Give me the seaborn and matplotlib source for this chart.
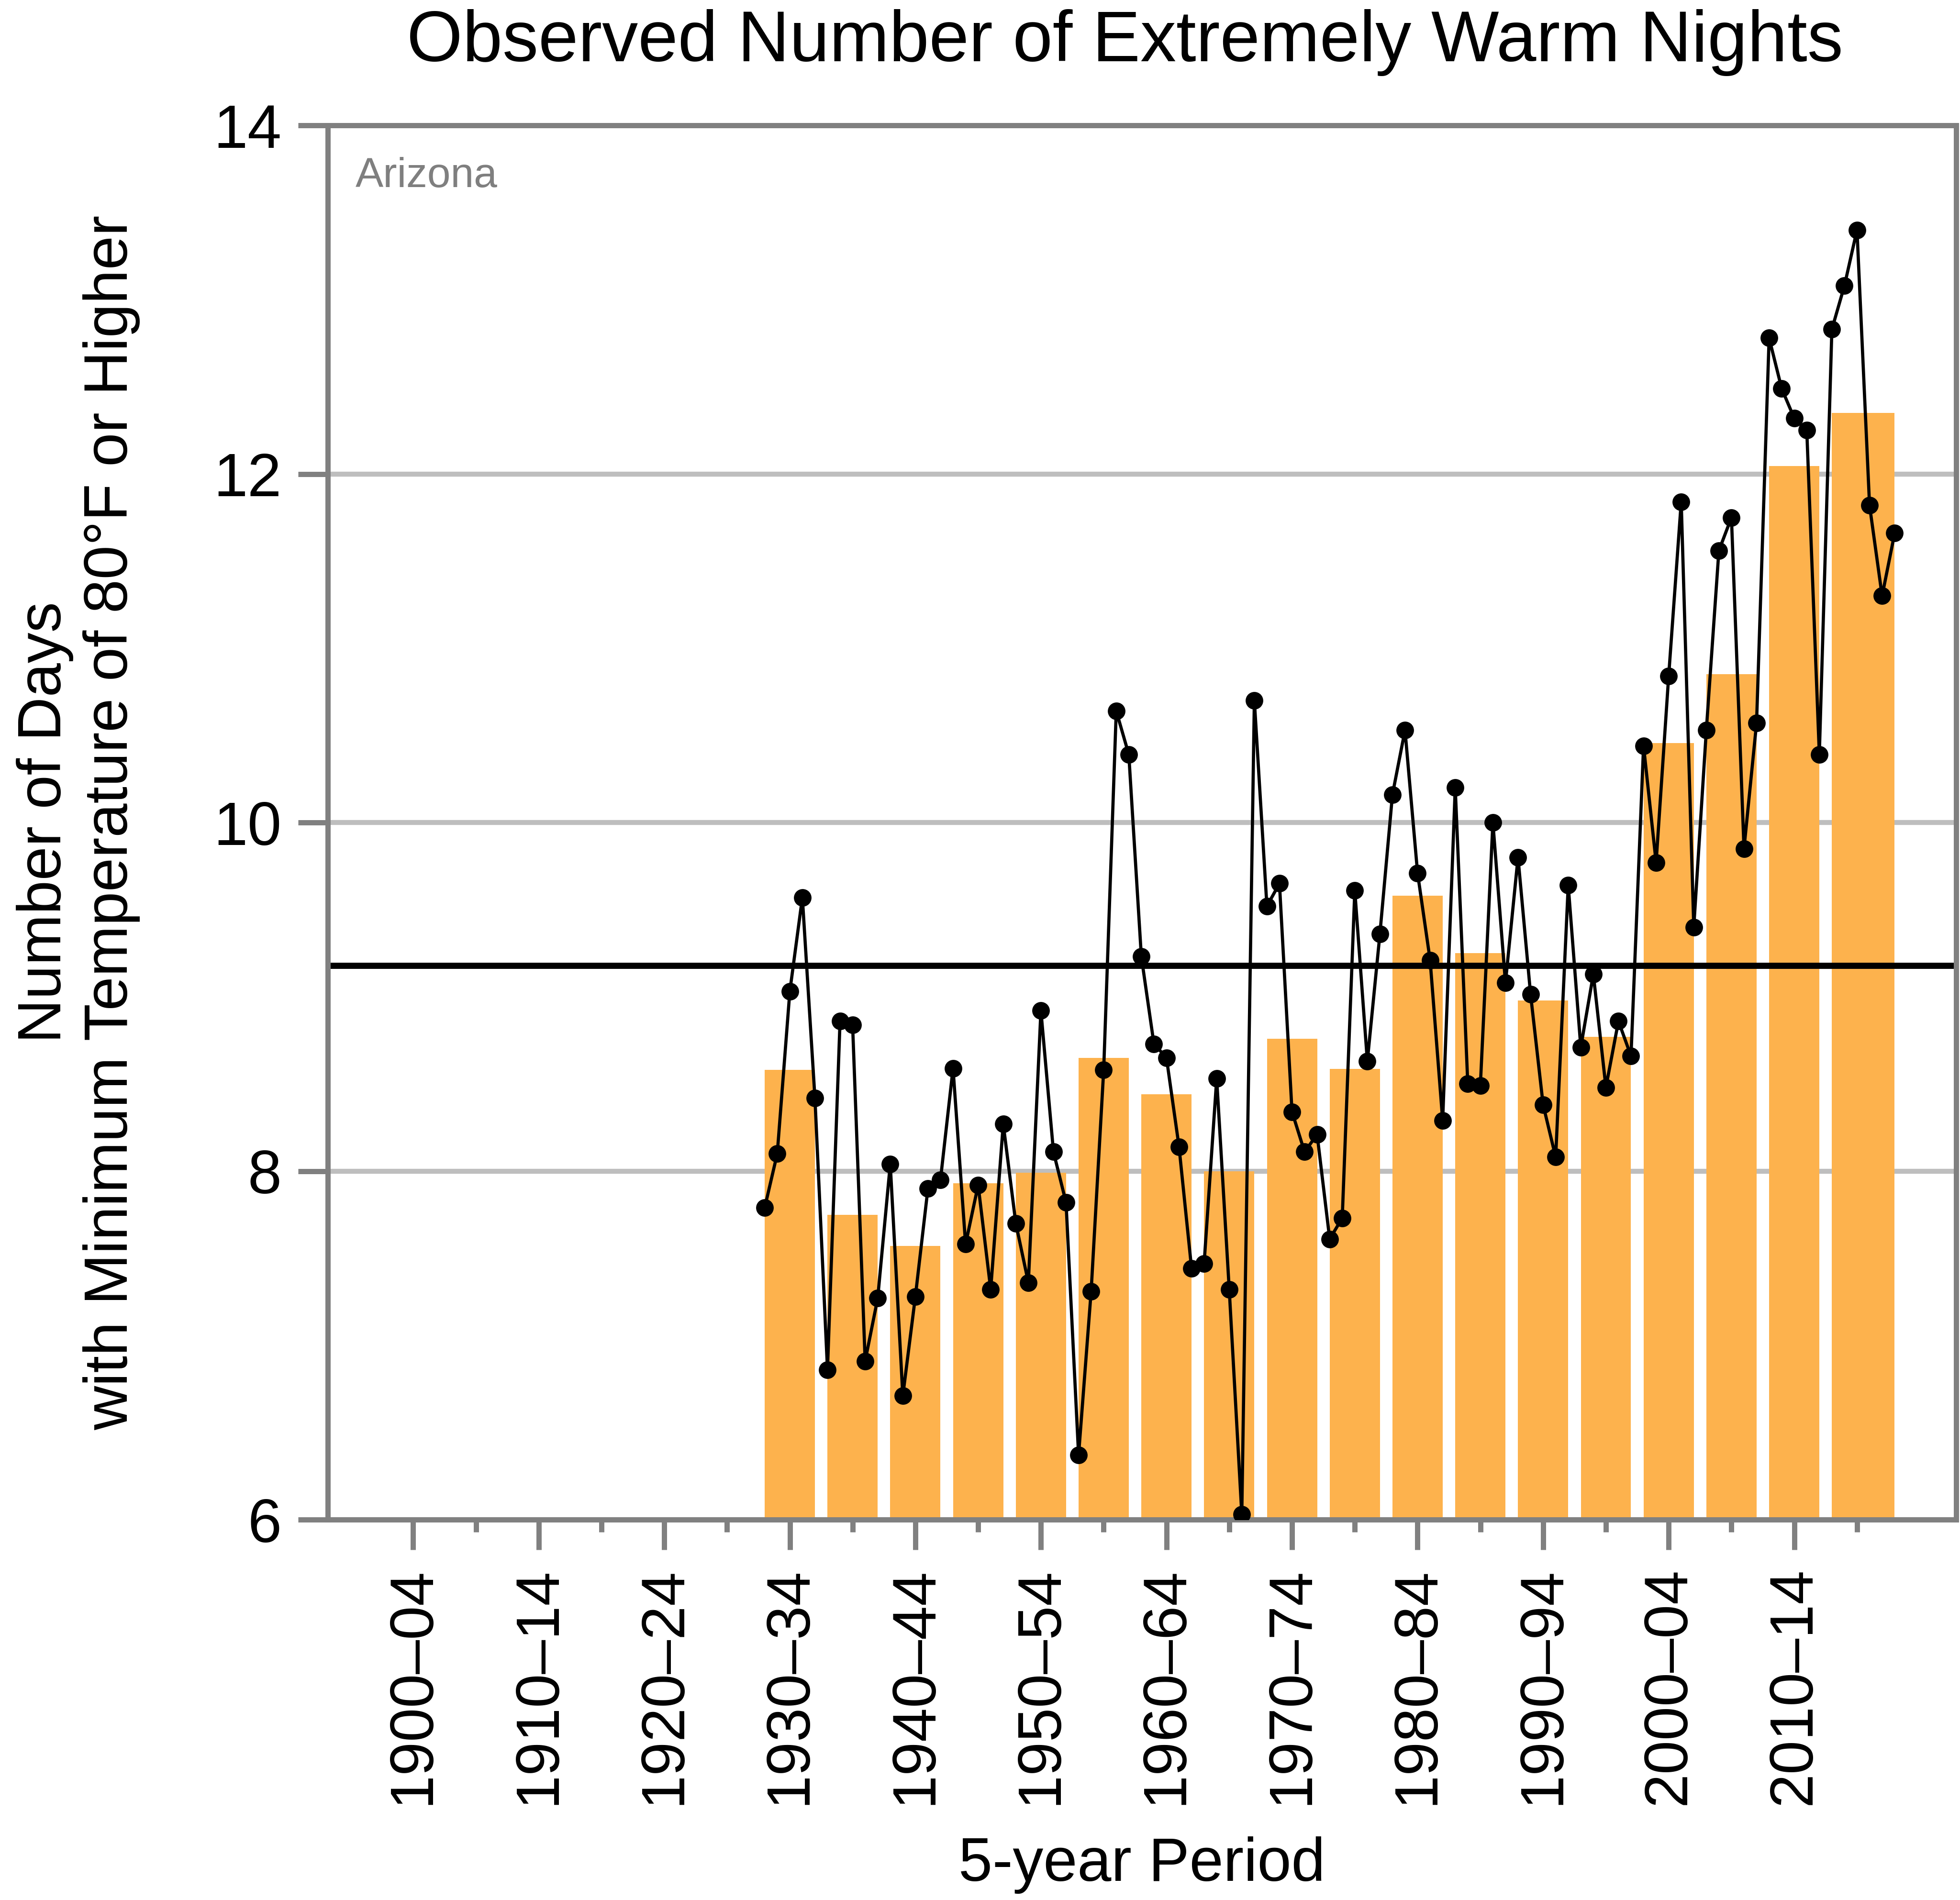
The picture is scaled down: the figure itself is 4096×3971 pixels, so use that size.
import numpy as np
import pandas as pd
import matplotlib
matplotlib.use("Agg")
import matplotlib.pyplot as plt
from matplotlib import font_manager
import seaborn as sns

# ---------------- data ----------------
years = list(range(1930, 2021))
annual_values = [
    7.79, 8.10, 9.03, 9.57, 8.42,
    6.86, 8.86, 8.84, 6.91, 7.27,
    8.04, 6.71, 7.28, 7.90, 7.95,
    8.59, 7.58, 7.92, 7.32, 8.27,
    7.70, 7.36, 8.92, 8.11, 7.82,
    6.37, 7.31, 8.58, 10.64, 10.39,
    9.23, 8.73, 8.65, 8.14, 7.44,
    7.47, 8.53, 7.32, 6.03, 10.70,
    9.52, 9.65, 8.34, 8.11, 8.21,
    7.61, 7.73, 9.61, 8.63, 9.36,
    10.16, 10.53, 9.71, 9.21, 8.29,
    10.20, 8.50, 8.49, 10.00, 9.08,
    9.80, 9.015, 8.38, 8.08, 9.64,
    8.71, 9.13, 8.48, 8.86, 8.66,
    10.44, 9.77, 10.84, 11.84, 9.40,
    10.53, 11.56, 11.75, 9.85, 10.57,
    12.78, 12.49, 12.32, 12.25, 10.39,
    12.83, 13.08, 13.40, 11.82, 11.30, 11.66,
]
period_start = [1930, 1935, 1940, 1945, 1950, 1955, 1960, 1965, 1970,
                1975, 1980, 1985, 1990, 1995, 2000, 2005, 2010, 2015]
period_end = [1934, 1939, 1944, 1949, 1954, 1959, 1964, 1969, 1974,
              1979, 1984, 1989, 1994, 1999, 2004, 2009, 2014, 2020]
period_values = [8.58, 7.75, 7.57, 7.93, 7.99, 8.65, 8.44, 8.00, 8.76,
                 8.585, 9.58, 9.25, 8.98, 8.77, 10.455, 10.85, 12.045, 12.35]
long_term_average = 9.18

tick_periods = [1900, 1910, 1920, 1930, 1940, 1950, 1960, 1970, 1980, 1990, 2000, 2010]
tick_labels = ["1900\u201304", "1910\u201314", "1920\u201324", "1930\u201334",
               "1940\u201344", "1950\u201354", "1960\u201364", "1970\u201374",
               "1980\u201384", "1990\u201394", "2000\u201304", "2010\u201314"]
minor_periods = [1905, 1915, 1925, 1935, 1945, 1955, 1965, 1975, 1985, 1995, 2005, 2015]
y_ticks = [6, 8, 10, 12, 14]

title = "Observed Number of Extremely Warm Nights"
ylabel = "Number of Days\nwith Minimum Temperature of 80\u00b0F or Higher"
xlabel = "5-year Period"
region = "Arizona"

# ---------------- style ----------------
sns.set_theme(style="white")
plt.rcParams["font.family"] = ["Liberation Sans", "DejaVu Sans"]

available = {f.name for f in font_manager.fontManager.ttflist}
if "Liberation Sans Narrow" in available:
    region_font, region_size = ["Liberation Sans Narrow", "Liberation Sans"], 76
else:
    region_font, region_size = ["Liberation Sans", "DejaVu Sans"], 63

GREY = "#808080"
GRID = "#bebebe"
BAR = "#FDB24D"

fig = plt.figure(figsize=(40.96, 39.71), dpi=100)
ax = fig.add_axes([0.16724, 0.20020, 0.99805 - 0.16724, 0.93402 - 0.20020])

df_bars = pd.DataFrame({"start": period_start, "end": period_end, "value": period_values})
ax.bar(df_bars["start"], df_bars["value"], width=df_bars["end"] - df_bars["start"],
       align="edge", color=BAR, linewidth=0, zorder=1)

ax.axhline(long_term_average, color="black", lw=9.3, zorder=2)

df = pd.DataFrame({"year": years, "value": annual_values})
sns.lineplot(data=df, x="year", y="value", ax=ax, color="black", lw=4.8,
             marker="o", markersize=26.5, markeredgewidth=0, zorder=3)

ax.set_xlim(1895.2, 2024.9)
ax.set_ylim(6, 14)
ax.set_yticks(y_ticks)
ax.set_yticklabels([str(v) for v in y_ticks])
ax.set_xticks([p + 2 for p in tick_periods])
ax.set_xticklabels(tick_labels, rotation=90)
ax.set_xticks([p + 2 for p in minor_periods], minor=True)

ax.set_axisbelow(True)
ax.yaxis.grid(True, color=GRID, lw=7.5, zorder=0)
ax.xaxis.grid(False)

for sp in ax.spines.values():
    sp.set_visible(True)
    sp.set_color(GREY)
    sp.set_linewidth(7.9)

ax.tick_params(axis="y", which="major", left=True, length=44.5, width=7.9,
               color=GREY, labelsize=92, pad=25, labelcolor="black")
ax.tick_params(axis="x", which="major", bottom=True, length=45, width=7.9,
               color=GREY, labelsize=92, pad=26, labelcolor="black")
ax.tick_params(axis="x", which="minor", bottom=True, length=19, width=7.9,
               color=GREY)

ax.set_ylabel(ylabel, fontsize=92, color="black")
ax.yaxis.set_label_coords(-0.1152, 0.5)
ax.set_xlabel(xlabel, fontsize=92, color="black")
ax.xaxis.set_label_coords(0.5, -0.2272)

ax.set_title(title, fontsize=108, x=0.4896, y=1.046, pad=0, color="black")

ax.text(0.017, 0.9557, region, transform=ax.transAxes, ha="left", va="baseline",
        color="#7f7f7f", fontsize=region_size, family=region_font)

fig.savefig("out.png", dpi=100)
